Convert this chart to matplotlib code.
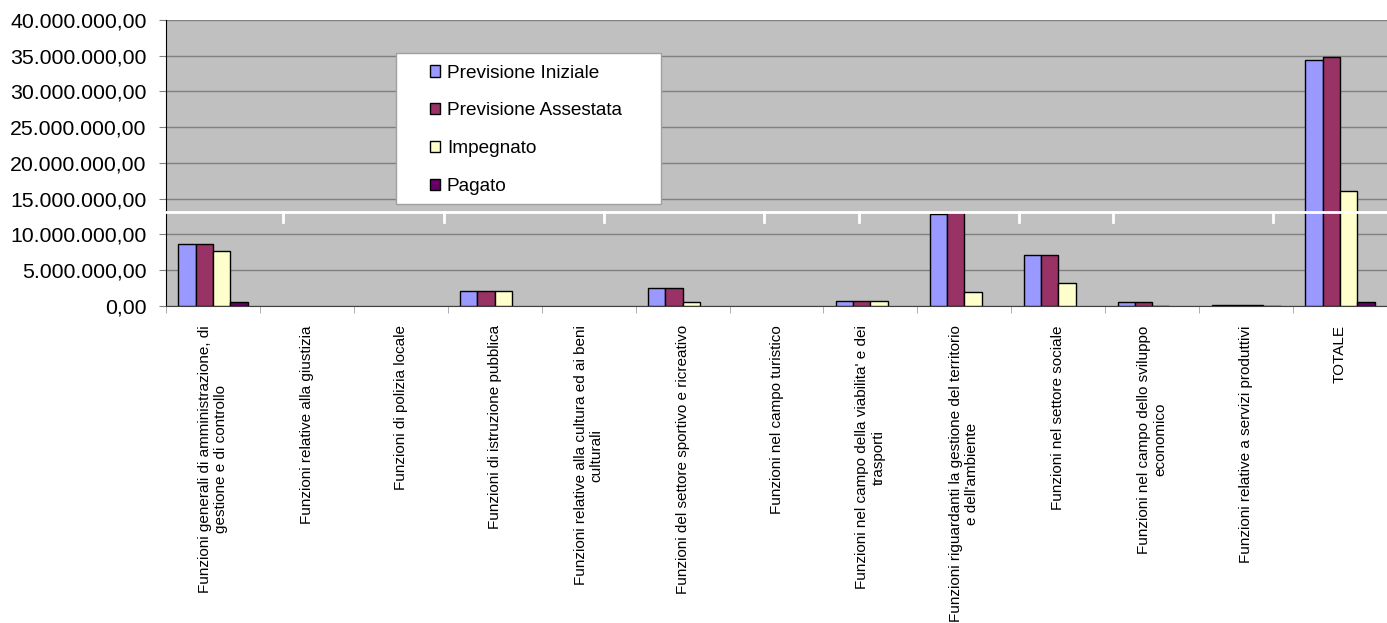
import matplotlib
matplotlib.use("Agg")
import matplotlib.pyplot as plt
import numpy as np
from matplotlib.ticker import FuncFormatter, MultipleLocator, FixedLocator
from matplotlib.patches import Rectangle

plt.rcParams['font.family'] = ['Liberation Sans', 'DejaVu Sans']

# categories (x axis)
categories = [
    "Funzioni generali di amministrazione, di\ngestione e di controllo",
    "Funzioni relative alla giustizia",
    "Funzioni di polizia locale",
    "Funzioni di istruzione pubblica",
    "Funzioni relative alla cultura ed ai beni\nculturali",
    "Funzioni del settore sportivo e ricreativo",
    "Funzioni nel campo turistico",
    "Funzioni nel campo della viabilita' e dei\ntrasporti",
    "Funzioni riguardanti la gestione del territorio\ne dell'ambiente",
    "Funzioni nel settore sociale",
    "Funzioni nel campo dello sviluppo\neconomico",
    "Funzioni relative a servizi produttivi",
    "TOTALE",
]

# series values (euro)
previsione_iniziale = [8650000, 0, 0, 2060000, 0, 2520000, 0, 660000, 12900000, 7150000, 520000, 150000, 34400000]
previsione_assestata = [8650000, 0, 0, 2060000, 0, 2520000, 0, 660000, 13100000, 7150000, 520000, 150000, 34800000]
impegnato = [7700000, 0, 0, 2060000, 0, 500000, 0, 660000, 1920000, 3270000, 50000, 150000, 16100000]
pagato = [500000, 0, 0, 0, 0, 0, 0, 0, 0, 0, 0, 50000, 500000]

series_names = ["Previsione Iniziale", "Previsione Assestata", "Impegnato", "Pagato"]
series_colors = ["#9999FF", "#993366", "#FFFFCC", "#660066"]

fig = plt.figure(figsize=(13.87, 6.23), dpi=100)
ax = fig.add_axes([0.1197, 0.509, 0.8803, 0.459])
ax.set_facecolor("#C0C0C0")

x = np.arange(len(categories))
w = 0.184
all_series = [previsione_iniziale, previsione_assestata, impegnato, pagato]
for i, (vals, name, col) in enumerate(zip(all_series, series_names, series_colors)):
    # zero values are not drawn (no flat outline on the axis)
    h = np.where(np.array(vals, dtype=float) == 0, np.nan, vals)
    ax.bar(x + (i - 1.5) * w, h, width=w, color=col, edgecolor="black",
           linewidth=1, label=name, zorder=3)

ax.set_xlim(-0.5, len(categories) - 0.5)
ax.set_ylim(0, 40000000)

# y axis
ax.yaxis.set_major_locator(MultipleLocator(5000000))
def it_fmt(v, pos):
    s = "{:,.2f}".format(v)
    return s.replace(",", "X").replace(".", ",").replace("X", ".")
ax.yaxis.set_major_formatter(FuncFormatter(it_fmt))
ax.tick_params(axis="y", labelsize=15.3, length=5, pad=9, color="#808080")
ax.yaxis.grid(True, color="#808080", linewidth=1, zorder=1)
ax.set_axisbelow(True)

# x axis: labels at centres, tick marks at boundaries
ax.xaxis.set_major_locator(FixedLocator(x))
ax.set_xticklabels(categories, rotation=90, ha="center", va="top",
                   multialignment="center", fontsize=11)
ax.tick_params(axis="x", which="major", length=0, pad=14)
ax.xaxis.set_minor_locator(FixedLocator(np.arange(-0.5, len(categories), 1.0)))
ax.tick_params(axis="x", which="minor", length=5, color="#A0A0A0")

for side in ["top", "right"]:
    ax.spines[side].set_visible(False)
ax.spines["left"].set_color("black")
ax.spines["bottom"].set_color("#404040")

# legend box
ax.add_patch(Rectangle((0.188, 0.357), 0.217, 0.528, transform=ax.transAxes,
                       facecolor="white", edgecolor="#A0A0A0", linewidth=1, zorder=5))
leg = ax.legend(loc="upper left", bbox_to_anchor=(0.216, 0.844), frameon=False,
                fontsize=13.7, handlelength=0.55, handleheight=0.55,
                handletextpad=0.35, labelspacing=1.1, borderpad=0, borderaxespad=0)
leg.set_zorder(6)

# white break line across the plot
yb = 0.3287
ax.plot([0, 1], [yb, yb], transform=ax.transAxes, color="white", lw=2,
        clip_on=False, zorder=7)
for px in [283, 444, 604, 764, 859, 1019, 1113, 1273]:
    xf = (px - 166) / 1221
    ax.plot([xf, xf], [yb, yb - 0.035], transform=ax.transAxes, color="white",
            lw=2, clip_on=False, zorder=7)

fig.savefig("out.png", dpi=100)
